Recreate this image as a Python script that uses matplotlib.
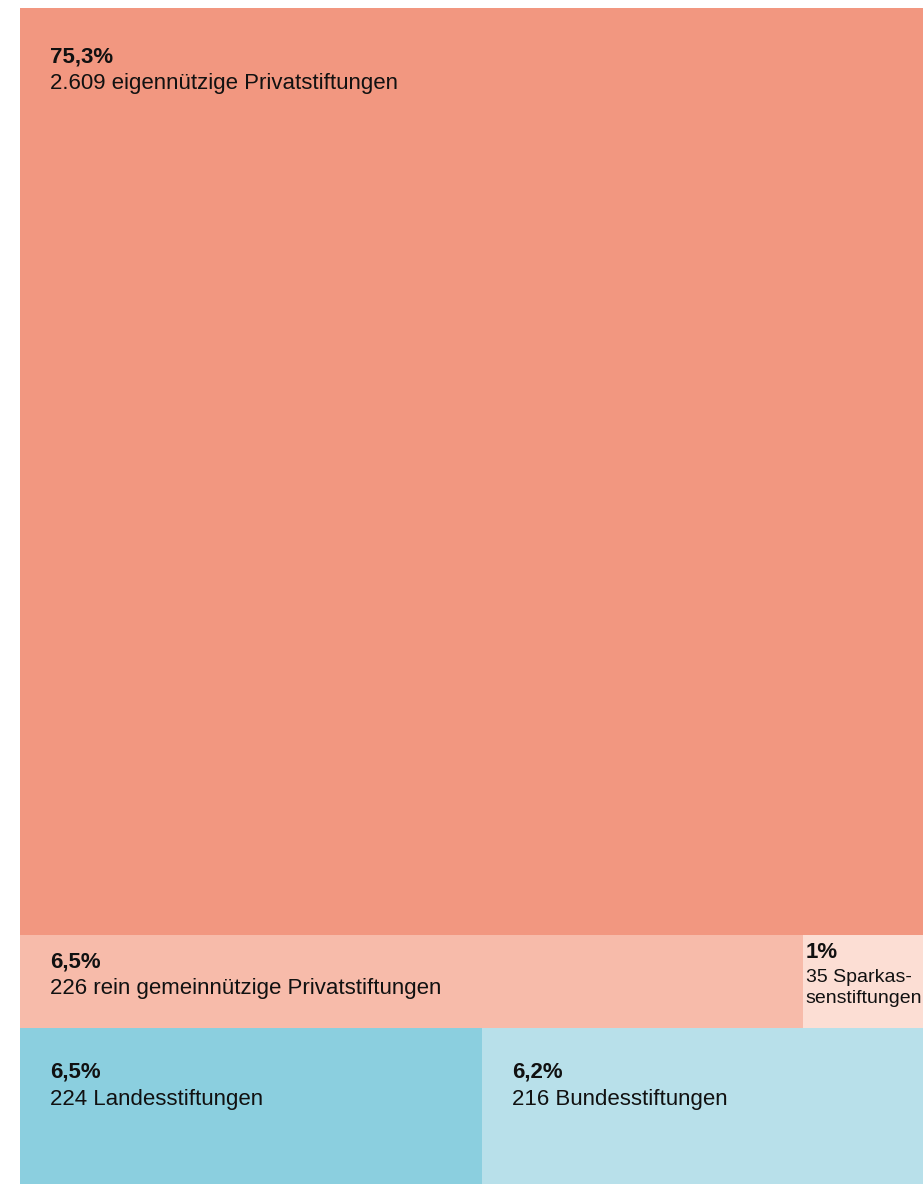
import matplotlib.pyplot as plt
from matplotlib.patches import Rectangle

# Data: share (%) and number of foundations, grouped in treemap rows
pcts = [[75.3], [6.5, 1.0], [6.5, 6.2]]
pct_labels = [["75,3%"], ["6,5%", "1%"], ["6,5%", "6,2%"]]
names = [["2.609 eigennützige Privatstiftungen"],
         ["226 rein gemeinnützige Privatstiftungen", "35 Sparkas-\nsenstiftungen"],
         ["224 Landesstiftungen", "216 Bundesstiftungen"]]
colors = [["#F29780"], ["#F7BBAA", "#FCDED4"], ["#8BCFDF", "#B8E0EA"]]

plt.rcParams['font.family'] = ['Liberation Sans', 'DejaVu Sans']

fig = plt.figure(figsize=(9.23, 11.84), dpi=100)
ax = fig.add_axes([20 / 923, 0, 903 / 923, 1176 / 1184])

total = sum(sum(r) for r in pcts)
ax.set_xlim(0, 1)
ax.set_ylim(total, 0)
ax.axis('off')

# text padding (pixels) and name font size per box, big boxes get more room
pads = [[(30, 38)], [(30, 16), (3, 7)], [(30, 34), (30, 34)]]
sizes = [[16], [16, 14], [16, 16]]

y = 0
for ri, row in enumerate(pcts):
    h = sum(row)
    x = 0
    for ci, v in enumerate(row):
        w = v / h
        ax.add_patch(Rectangle((x, y), w, h, facecolor=colors[ri][ci],
                               edgecolor='none'))
        px, py = pads[ri][ci]
        ax.annotate(pct_labels[ri][ci], xy=(x, y), xytext=(px, -py),
                    textcoords='offset pixels', va='top', ha='left',
                    fontsize=16, fontweight='bold', color='#111111')
        ax.annotate(names[ri][ci], xy=(x, y), xytext=(px, -py - 27),
                    textcoords='offset pixels', va='top', ha='left',
                    fontsize=sizes[ri][ci], color='#111111', linespacing=1.25,
                    annotation_clip=False)
        x += w
    y += h

fig.savefig('out.png', dpi=100)
